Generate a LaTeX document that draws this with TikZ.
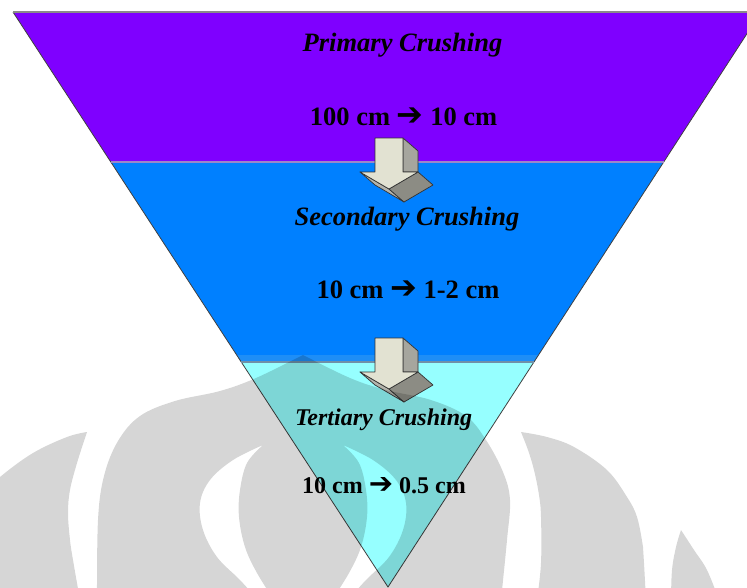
\documentclass[tikz,border=0pt]{standalone}
\usepackage{fontspec}
\setmainfont{Liberation Serif}
\newfontfamily\arrowfont{DejaVu Sans}
\usetikzlibrary{calc}

\definecolor{primcol}{HTML}{7F00FF}
\definecolor{seccol}{HTML}{0080FF}
\definecolor{seclight}{HTML}{1E8EF6}
\definecolor{tercol}{HTML}{96FFFF}
\definecolor{arrfront}{HTML}{E2E2D2}
\definecolor{arrside}{HTML}{A6A69E}
\definecolor{arrdark}{HTML}{8C8C84}
\definecolor{arrmid}{HTML}{B4B4AC}
\definecolor{topline}{HTML}{8A8A8A}
\definecolor{divone}{HTML}{9A88C8}
\definecolor{divtwo}{HTML}{7090A8}

\tikzset{
  sideedge/.style={draw=black!75, line width=0.8pt},
  topedge/.style={draw=topline, line width=2pt},
  divline/.style={line width=1.6pt},
  titletext/.style={font=\fontsize{26.5}{30}\selectfont\bfseries\itshape, anchor=base, inner sep=0pt},
  sizetext/.style={font=\fontsize{26.5}{30}\selectfont\bfseries, anchor=base, inner sep=0pt},
  smalltitle/.style={font=\fontsize{24}{28}\selectfont\bfseries\itshape, anchor=base, inner sep=0pt},
  smallsize/.style={font=\fontsize{24}{28}\selectfont\bfseries, anchor=base, inner sep=0pt},
  watermark/.style={fill=black, fill opacity=0.16, even odd rule},
  arrface/.style={draw=black!80, line width=0.7pt, line join=round},
  blockarrow/.pic={
    \filldraw[arrface, fill=arrside] (28,0) -- (43,13) -- (43,34) -- (28,34) -- cycle;
    \filldraw[arrface, fill=arrmid] (-15,34) -- (14,51) -- (29,64) -- (0,47) -- cycle;
    \filldraw[arrface, fill=arrdark] (14,51) -- (43,34) -- (58,47) -- (29,64) -- cycle;
    \filldraw[arrface, fill=arrfront] (0,0) -- (28,0) -- (28,34) -- (43,34) -- (14,51) -- (-15,34) -- (0,34) -- cycle;
  }
}
\newcommand{\rarr}[1]{{\arrowfont\fontsize{#1}{#1}\selectfont ➔}}

\begin{document}
\begin{tikzpicture}[x=1pt,y=-1pt]
\useasboundingbox (0,0) rectangle (747,587);
\fill[white] (0,0) rectangle (747,587);
\clip (0,0) rectangle (747,587);

% corners of the funnel
\coordinate (TL) at (13,12);
\coordinate (TR) at (761,12);
\coordinate (BT) at (388,587);
\coordinate (L1) at ($(TL)!0.26087!(BT)$);
\coordinate (R1) at ($(TR)!0.26087!(BT)$);
\coordinate (L2a) at ($(TL)!0.59652!(BT)$);
\coordinate (R2a) at ($(TR)!0.59652!(BT)$);
\coordinate (L2) at ($(TL)!0.6087!(BT)$);
\coordinate (R2) at ($(TR)!0.6087!(BT)$);

% bands
\fill[primcol] (TL) -- (TR) -- (R1) -- (L1) -- cycle;
\fill[seccol] (L1) -- (R1) -- (R2) -- (L2) -- cycle;
\fill[seclight] (L2a) -- (R2a) -- (R2) -- (L2) -- cycle;
\fill[tercol] (L2) -- (R2) -- (BT) -- cycle;

\draw[sideedge] (TL) -- (BT) -- (TR);
\draw[topedge] (TL) -- (TR);
\draw[divline, draw=divone] (L1) -- (R1);
\draw[divline, draw=divtwo] (L2) -- (R2);

% block arrows
\pic at (375,138) {blockarrow};
\pic at (375,338) {blockarrow};

% texts
\node[titletext] (primary) at (402.5,51.5) {Primary Crushing};
\node[sizetext] (primsize) at (403.6,125) {100 cm \rarr{32} 10 cm};
\node[titletext] (secondary) at (407,225) {Secondary Crushing};
\node[sizetext] (secsize) at (408,298.5) {10 cm \rarr{32} 1-2 cm};
\node[smalltitle] (tertiary) at (383.6,425) {Tertiary Crushing};
\node[smallsize] (tersize) at (384,493) {10 cm \rarr{29} 0.5 cm};

% watermark
\path[watermark]
  % dome
  plot[smooth, tension=0.6] coordinates {(97,600) (98,520) (104,476) (118,441) (140,416) (175,401) (220,391) (256,378) (303,355)}
  -- plot[smooth, tension=0.6] coordinates {(303,355) (350,378) (386,390) (431,400) (466,416) (486,440) (503,472) (510,500) (507,540) (501,600)}
  -- cycle
  % left crescent hole
  plot[smooth, tension=0.6] coordinates {(263,445) (233,460) (210,480) (200,503) (203,530) (217,557) (240,580) (258,600)}
  -- plot[smooth, tension=0.6] coordinates {(274,600) (257,573) (245,547) (239,517) (240,490) (247,463) (263,445)}
  -- cycle
  % right crescent hole
  plot[smooth, tension=0.6] coordinates {(343,445) (373,460) (396,480) (406,503) (403,530) (389,557) (366,580) (348,600)}
  -- plot[smooth, tension=0.6] coordinates {(332,600) (349,573) (361,547) (367,517) (366,490) (359,463) (343,445)}
  -- cycle
  % left outer band
  plot[smooth, tension=0.6] coordinates {(-30,505) (0,477) (33,453) (67,437) (87,432)}
  -- plot[smooth, tension=0.6] coordinates {(87,432) (77,463) (70,490) (68,513) (70,540) (73,560) (80,600)}
  -- (-30,600) -- cycle
  % right outer band
  plot[smooth, tension=0.6] coordinates {(521,432) (528,450) (534,470) (539,495) (541,517) (541,563) (537,600)}
  -- plot[smooth, tension=0.6] coordinates {(646,600) (644,563) (643,547) (637,517) (627,497) (607,470) (574,447) (547,437) (521,432)}
  -- cycle
  % far right piece
  plot[smooth, tension=0.6] coordinates {(681,530) (676,547) (672,570) (671,600)}
  -- plot[smooth, tension=0.6] coordinates {(719,600) (707,570) (694,550) (681,530)}
  -- cycle;
\end{tikzpicture}
\end{document}
